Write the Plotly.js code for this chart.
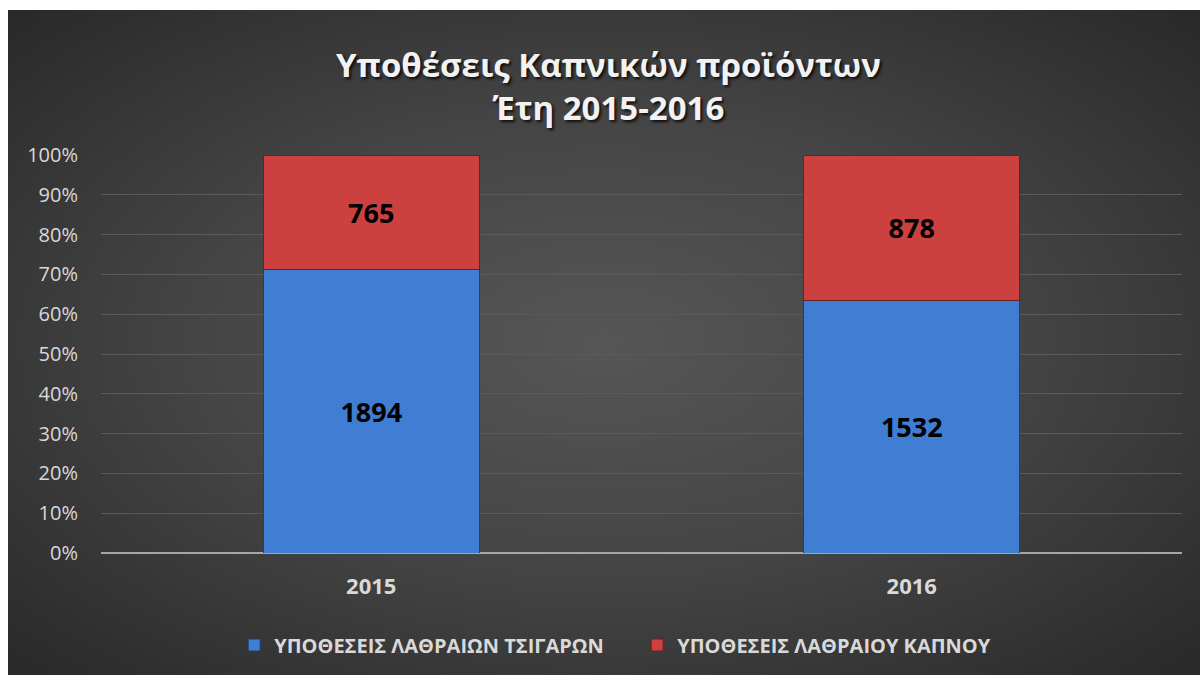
<!DOCTYPE html>
<html>
<head>
<meta charset="utf-8">
<script src="https://cdn.plot.ly/plotly-3.0.1.min.js"></script>
<style>
  html, body { margin: 0; padding: 0; background: #ffffff; }
  #wrap { position: relative; width: 1200px; height: 675px; overflow: hidden; }
  #bg { position: absolute; left: 8px; top: 10px; width: 1192px; height: 665px;
        background: radial-gradient(ellipse 75% 75% at 50% 50%, #565656 0%, #454545 45%, #2e2e2e 85%, #262626 100%); }
  #chart { position: absolute; left: 0; top: 0; width: 1200px; height: 675px; }
</style>
</head>
<body>
<div id="wrap">
  <div id="bg"></div>
  <div id="chart"></div>
</div>
<script>
const years = ['2015', '2016'];
const cigarettes = [1894, 1532];
const tobacco = [765, 878];
const seriesNames = ['ΥΠΟΘΕΣΕΙΣ ΛΑΘΡΑΙΩΝ ΤΣΙΓΑΡΩΝ', 'ΥΠΟΘΕΣΕΙΣ ΛΑΘΡΑΙΟΥ ΚΑΠΝΟΥ'];
const titleLines = ['Υποθέσεις Καπνικών προϊόντων', 'Έτη 2015-2016'];

const labelFont = {family: 'Open Sans, sans-serif', size: 27, color: '#000000', weight: 700};

const traces = [
  {
    type: 'bar', x: years, y: cigarettes, name: seriesNames[0],
    marker: {color: '#3f7ed2', line: {color: '#1f3f70', width: 1}},
    text: cigarettes.map(String), texttemplate: '%{text}',
    textposition: 'inside', insidetextanchor: 'middle', textangle: 0,
    insidetextfont: labelFont, hoverinfo: 'skip'
  },
  {
    type: 'bar', x: years, y: tobacco, name: seriesNames[1],
    marker: {color: '#cc4140', line: {color: '#6e1e1e', width: 1}},
    text: tobacco.map(String), texttemplate: '%{text}',
    textposition: 'inside', insidetextanchor: 'middle', textangle: 0,
    insidetextfont: labelFont, hoverinfo: 'skip'
  }
];

const layout = {
  width: 1200, height: 675,
  paper_bgcolor: 'rgba(0,0,0,0)', plot_bgcolor: 'rgba(0,0,0,0)',
  margin: {l: 101, r: 18, t: 155, b: 122},
  barmode: 'stack', barnorm: 'percent', bargap: 0.6,
  title: {
    text: titleLines.join('<br>'),
    x: 0.507, xanchor: 'center', y: 1 - 77 / 675, yanchor: 'middle', yref: 'container',
    font: {family: 'Open Sans, sans-serif', size: 33, color: '#f2f2f2', weight: 700,
           shadow: '2px 2px 3px rgba(0,0,0,0.8)'}
  },
  xaxis: {
    type: 'category', showgrid: false, zeroline: false, showline: false,
    ticks: '', ticklabelstandoff: 18,
    tickfont: {family: 'Open Sans, sans-serif', size: 22, color: '#d9d9d9', weight: 700}
  },
  yaxis: {
    range: [0, 100], tickvals: [0,10,20,30,40,50,60,70,80,90,100],
    ticktext: ['0%','10%','20%','30%','40%','50%','60%','70%','80%','90%','100%'],
    showgrid: true, gridcolor: '#5a5a5a', gridwidth: 1,
    zeroline: true, zerolinecolor: '#a6a6a6', zerolinewidth: 2,
    showline: false, ticks: '', ticklabelstandoff: 22,
    tickfont: {family: 'Open Sans, sans-serif', size: 20, color: '#d9d9d9'}
  },
  showlegend: true,
  legend: {
    orientation: 'h', x: 0.496, xanchor: 'center', y: 1 - 645 / 675, yref: 'container', yanchor: 'middle',
    traceorder: 'normal', itemwidth: 30, entrywidth: 358, entrywidthmode: 'pixels',
    bgcolor: 'rgba(0,0,0,0)',
    font: {family: 'Open Sans, sans-serif', size: 20, color: '#d9d9d9', weight: 700}
  }
};

Plotly.newPlot('chart', traces, layout, {displayModeBar: false, staticPlot: true});
</script>
</body>
</html>
